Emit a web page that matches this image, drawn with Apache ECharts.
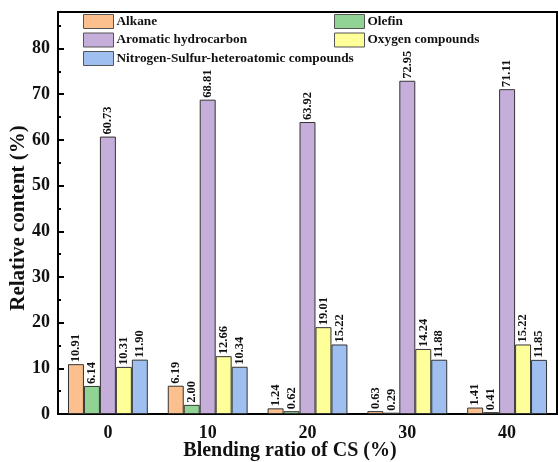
<!DOCTYPE html>
<html>
<head>
<meta charset="utf-8">
<script src="https://cdn.jsdelivr.net/npm/echarts@6/dist/echarts.min.js"></script>
<style>
html,body{margin:0;padding:0;background:#fff;}
#chart{width:558px;height:462px;}
</style>
</head>
<body>
<div id="chart"></div>
<script>
var categories = ['0', '10', '20', '30', '40'];
var alkane = [10.91, 6.19, 1.24, 0.63, 1.41];
var olefin = [6.14, 2.00, 0.62, 0.29, 0.41];
var aromatic = [60.73, 68.81, 63.92, 72.95, 71.11];
var oxygen = [10.31, 12.66, 19.01, 14.24, 15.22];
var nitrogen = [11.90, 10.34, 15.22, 11.88, 11.85];
var seriesNames = ['Alkane', 'Olefin', 'Aromatic hydrocarbon', 'Oxygen compounds', 'Nitrogen-Sulfur-heteroatomic compounds'];
var seriesData = [alkane, olefin, aromatic, oxygen, nitrogen];
var colors = ['#FBC08E', '#90D394', '#C5AFDA', '#FFFF99', '#9FBFF0'];

var FONT = '"Liberation Serif", "Times New Roman", serif';
var chart = echarts.init(document.getElementById('chart'));

var series = seriesNames.map(function (n, i) {
  return {
    name: n,
    type: 'bar',
    data: seriesData[i],
    barGap: '0%',
    barCategoryGap: '20%',
    itemStyle: { color: colors[i], borderColor: '#333', borderWidth: 1 },
    label: {
      show: true,
      position: 'top',
      rotate: 90,
      align: 'left',
      verticalAlign: 'middle',
      distance: 2,
      fontFamily: FONT,
      fontWeight: 'bold',
      fontSize: 12.5,
      color: '#111',
      formatter: function (p) { return p.value.toFixed(2); }
    }
  };
});

var legendCommon = {
  orient: 'vertical',
  itemWidth: 30,
  itemHeight: 14,
  itemGap: 3.5,
  icon: 'rect',
  textStyle: { fontFamily: FONT, fontWeight: 'bold', fontSize: 13.3, color: '#111', padding: [0, 0, 0, -2] },
  itemStyle: { borderColor: '#555', borderWidth: 1 }
};

chart.setOption({
  animation: false,
  backgroundColor: '#fff',
  color: colors,
  legend: [
    Object.assign({}, legendCommon, { left: 78, top: 9, data: ['Alkane', 'Aromatic hydrocarbon', 'Nitrogen-Sulfur-heteroatomic compounds'] }),
    Object.assign({}, legendCommon, { left: 329, top: 9, data: ['Olefin', 'Oxygen compounds'] })
  ],
  grid: { left: 58, right: 1, top: 12, bottom: 48, show: true, borderColor: '#000', borderWidth: 2 },
  xAxis: {
    type: 'category',
    data: categories,
    axisLine: { lineStyle: { color: '#000', width: 2 } },
    axisTick: { show: false },
    axisLabel: { fontFamily: FONT, fontWeight: 'bold', fontSize: 18, color: '#111', margin: 10 }
  },
  yAxis: {
    type: 'value',
    min: 0, max: 88, interval: 10,
    axisLine: { show: true, lineStyle: { color: '#000', width: 2 } },
    axisTick: { show: true, inside: true, length: 6, lineStyle: { color: '#000', width: 2 } },
    minorTick: { show: true, splitNumber: 2, length: 3, lineStyle: { color: '#000', width: 2 } },
    splitLine: { show: false },
    axisLabel: { fontFamily: FONT, fontWeight: 'bold', fontSize: 18, color: '#111', margin: 8, showMaxLabel: false }
  },
  graphic: [
    { type: 'text', x: 19, y: 218, rotation: Math.PI / 2, style: { text: 'Relative content (%)', fontFamily: FONT, fontWeight: 'bold', fontSize: 21, fill: '#111', align: 'center', verticalAlign: 'middle' } },
    { type: 'text', x: 290, y: 451, style: { text: 'Blending ratio of CS (%)', fontFamily: FONT, fontWeight: 'bold', fontSize: 20, fill: '#111', align: 'center', verticalAlign: 'middle' } }
  ],
  series: series
});
</script>
</body>
</html>
